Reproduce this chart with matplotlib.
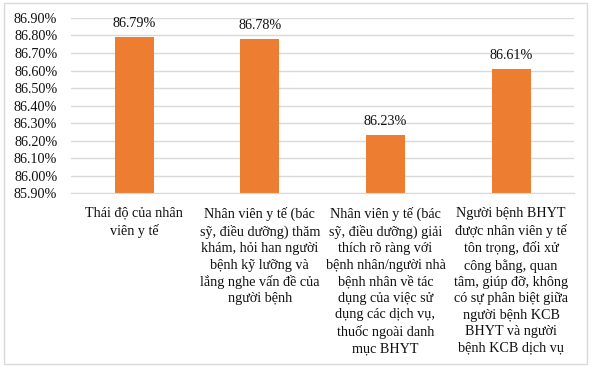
import matplotlib.pyplot as plt
from matplotlib.patches import Rectangle
from matplotlib.ticker import FuncFormatter, MultipleLocator

plt.rcParams['font.family'] = ['Liberation Serif', 'DejaVu Serif']

# Data
categories = [
    "Thái độ của nhân\nviên y tế",
    "Nhân viên y tế (bác\nsỹ, điều dưỡng) thăm\nkhám, hỏi han người\nbệnh kỹ lưỡng và\nlắng nghe vấn đề của\nngười bệnh",
    "Nhân viên y tế (bác\nsỹ, điều dưỡng) giải\nthích rõ ràng với\nbệnh nhân/người nhà\nbệnh nhân về tác\ndụng của việc sử\ndụng các dịch vụ,\nthuốc ngoài danh\nmục BHYT",
    "Người bệnh BHYT\nđược nhân viên y tế\ntôn trọng, đối xử\ncông bằng, quan\ntâm, giúp đỡ, không\ncó sự phân biệt giữa\nngười bệnh KCB\nBHYT và người\nbệnh KCB dịch vụ",
]
values = [86.79, 86.78, 86.23, 86.61]
y_min, y_max = 85.90, 86.90

fig = plt.figure(figsize=(5.93, 3.67), dpi=100)
ax = fig.add_axes([0.12, 0.474, 0.848, 0.477])

x = range(len(values))
bars = ax.bar(x, [v - y_min for v in values], bottom=y_min, width=0.31,
              color='#ED7D31', zorder=3)

for xi, v in zip(x, values):
    ax.annotate(f"{v:.2f}%", (xi, v), xytext=(0, 5), textcoords='offset points',
                ha='center', va='bottom', fontsize=10.2, color='#111111')

ax.set_ylim(y_min, y_max)
ax.set_xlim(-0.5, 3.5)
ax.yaxis.set_major_locator(MultipleLocator(0.1))
ax.yaxis.set_major_formatter(FuncFormatter(lambda v, p: f"{v:.2f}%"))
ax.grid(axis='y', color='#D9D9D9', linewidth=1, zorder=0)
for s in ['top', 'right', 'left']:
    ax.spines[s].set_visible(False)
ax.spines['bottom'].set_color('#D9D9D9')
ax.spines['bottom'].set_zorder(4)

ax.set_xticks(list(x))
ax.set_xticklabels(categories, fontsize=10.2, linespacing=1.33, color='#111111')
ax.tick_params(axis='both', length=0)
ax.tick_params(axis='x', pad=10)
ax.tick_params(axis='y', pad=10, labelsize=10.2, labelcolor='#111111')

fig.patches.append(Rectangle((0.007, 0.008), 0.983, 0.984, transform=fig.transFigure,
                             fill=False, edgecolor='#D9D9D9', linewidth=1))

fig.savefig('out.png', dpi=100)
